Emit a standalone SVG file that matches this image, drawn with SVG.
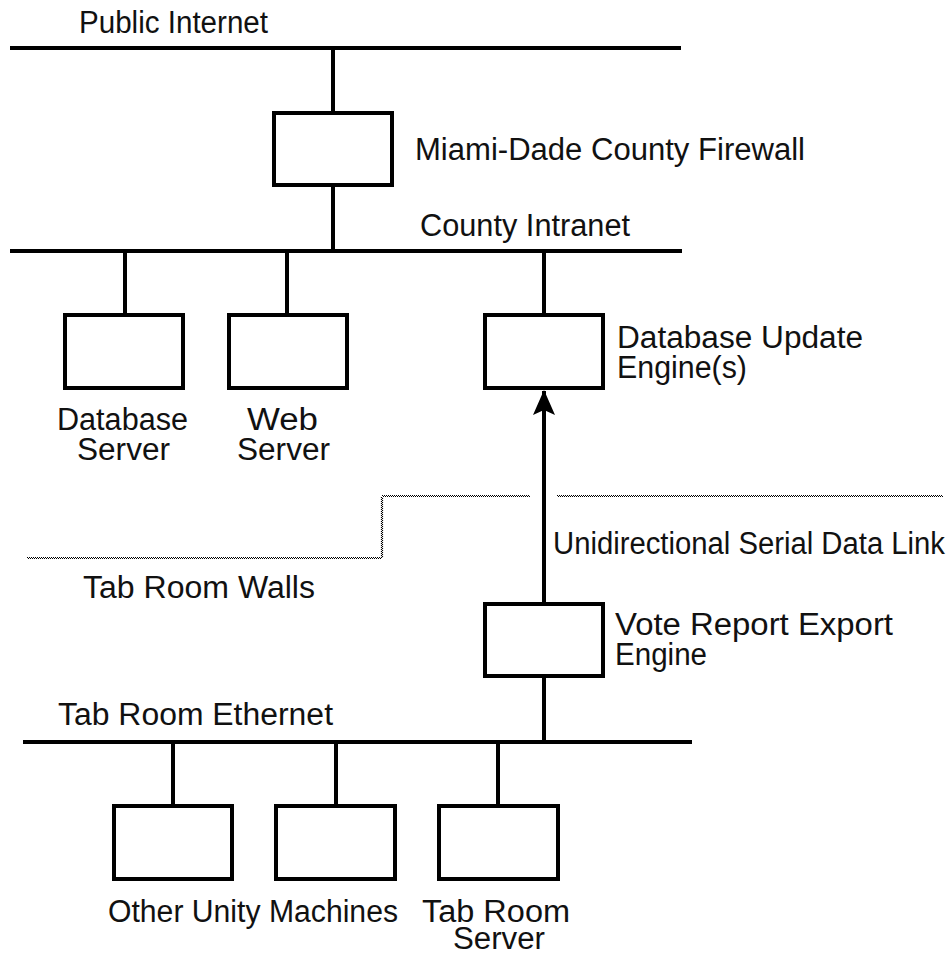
<svg xmlns="http://www.w3.org/2000/svg" width="951" height="955" viewBox="0 0 951 955">
<style>
.bus{stroke:#000;stroke-width:4;fill:none}
.box{stroke:#000;stroke-width:4;fill:#fff}
.link{stroke:#000;stroke-width:4;fill:none}
.wall{stroke:#000;stroke-width:1.2;fill:none;stroke-dasharray:1 1}
text{font-family:"Liberation Sans",Arial,sans-serif;font-size:31px;fill:#111}
</style>
<defs>
<marker id="arrow" markerUnits="userSpaceOnUse" markerWidth="26" markerHeight="24" viewBox="0 0 26 24" refX="25" refY="12" orient="auto">
<path d="M26,12 L1,1 L6,12 L1,23 Z" fill="#000"/>
</marker>
</defs>
<rect width="951" height="955" fill="#fff"/>

<g id="public-internet">
<line class="bus" x1="10" y1="48" x2="681" y2="48"/>
<text x="79" y="33" textLength="189" lengthAdjust="spacingAndGlyphs">Public Internet</text>
</g>
<g id="county-intranet">
<line class="bus" x1="10" y1="251" x2="682" y2="251"/>
<text x="420" y="236" textLength="210" lengthAdjust="spacingAndGlyphs">County Intranet</text>
</g>
<g id="tab-room-ethernet">
<line class="bus" x1="23" y1="742" x2="692" y2="742"/>
<text x="58" y="725" textLength="275" lengthAdjust="spacingAndGlyphs">Tab Room Ethernet</text>
</g>

<g id="connectors">
<line class="link" x1="333" y1="48" x2="333" y2="113"/>
<line class="link" x1="333" y1="185" x2="333" y2="251"/>
<line class="link" x1="125" y1="251" x2="125" y2="315"/>
<line class="link" x1="287" y1="251" x2="287" y2="315"/>
<line class="link" x1="544" y1="251" x2="544" y2="315"/>
<line class="link" x1="544" y1="604" x2="544" y2="391" marker-end="url(#arrow)"/>
<line class="link" x1="544" y1="676" x2="544" y2="742"/>
<line class="link" x1="173" y1="742" x2="173" y2="806"/>
<line class="link" x1="336" y1="742" x2="336" y2="806"/>
<line class="link" x1="498" y1="742" x2="498" y2="806"/>
<text x="553" y="554" textLength="392" lengthAdjust="spacingAndGlyphs">Unidirectional Serial Data Link</text>
</g>

<g id="firewall">
<rect class="box" x="274" y="113" width="118" height="72"/>
<text x="415" y="160" textLength="390" lengthAdjust="spacingAndGlyphs">Miami-Dade County Firewall</text>
</g>
<g id="database-server">
<rect class="box" x="65" y="315" width="118" height="73"/>
<text x="57" y="430" textLength="131" lengthAdjust="spacingAndGlyphs">Database</text>
<text x="77" y="460" textLength="93" lengthAdjust="spacingAndGlyphs">Server</text>
</g>
<g id="web-server">
<rect class="box" x="229" y="315" width="118" height="73"/>
<text x="247" y="430" textLength="71" lengthAdjust="spacingAndGlyphs">Web</text>
<text x="237" y="460" textLength="93" lengthAdjust="spacingAndGlyphs">Server</text>
</g>
<g id="database-update-engine">
<rect class="box" x="485" y="315" width="118" height="73"/>
<text x="617" y="348" textLength="246" lengthAdjust="spacingAndGlyphs">Database Update</text>
<text x="617" y="378" textLength="130" lengthAdjust="spacingAndGlyphs">Engine(s)</text>
</g>
<g id="vote-report-export-engine">
<rect class="box" x="485" y="604" width="118" height="72"/>
<text x="615" y="635" textLength="278" lengthAdjust="spacingAndGlyphs">Vote Report Export</text>
<text x="615" y="665" textLength="92" lengthAdjust="spacingAndGlyphs">Engine</text>
</g>
<g id="other-unity-machines">
<rect class="box" x="114" y="806" width="118" height="73"/>
<rect class="box" x="276" y="806" width="119" height="73"/>
<text x="108" y="922" textLength="290" lengthAdjust="spacingAndGlyphs">Other Unity Machines</text>
</g>
<g id="tab-room-server">
<rect class="box" x="439" y="806" width="119" height="73"/>
<text x="422" y="922" textLength="148" lengthAdjust="spacingAndGlyphs">Tab Room</text>
<text x="453" y="949" textLength="92" lengthAdjust="spacingAndGlyphs">Server</text>
</g>

<g id="tab-room-walls">
<path class="wall" d="M27,557.5 H382"/>
<path class="wall" d="M28,558.5 H382" />
<path class="wall" d="M381.5,558 V496"/>
<path class="wall" d="M382.5,557 V497"/>
<path class="wall" d="M382,495.5 H530"/>
<path class="wall" d="M383,496.5 H530"/>
<path class="wall" d="M557,495.5 H943"/>
<path class="wall" d="M558,496.5 H943"/>
<text x="83" y="598" textLength="232" lengthAdjust="spacingAndGlyphs">Tab Room Walls</text>
</g>
</svg>
